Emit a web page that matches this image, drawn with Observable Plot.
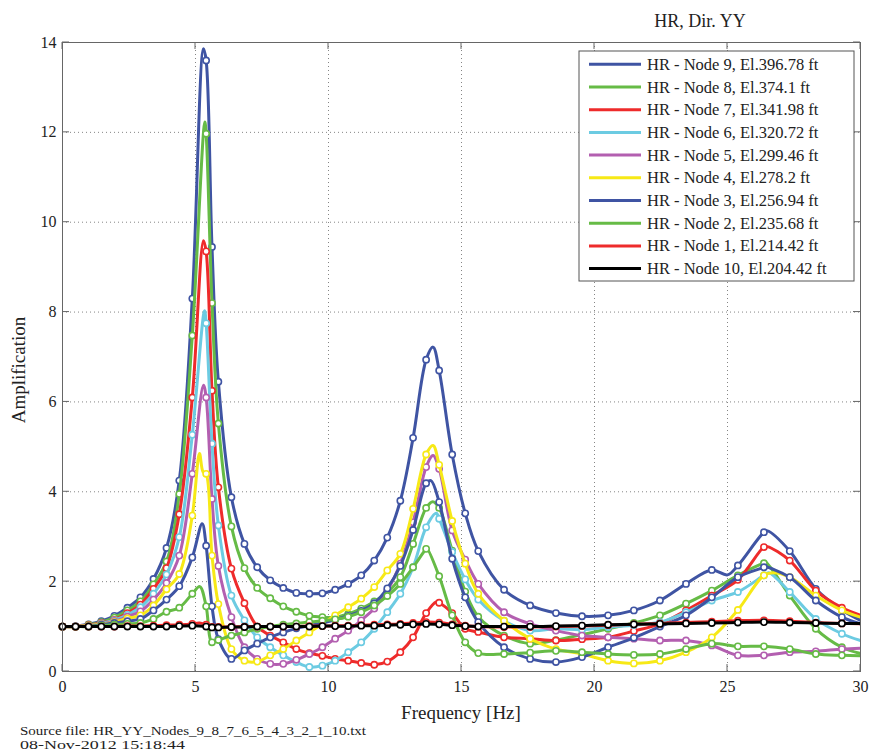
<!DOCTYPE html>
<html><head><meta charset="utf-8">
<script src="https://cdn.jsdelivr.net/npm/d3@7"></script>
<script src="https://cdn.jsdelivr.net/npm/@observablehq/plot@0.6"></script>
<style>body{margin:0;background:#fff} svg{display:block}</style>
</head><body><div id="chart"></div>
<script>
// Frequency grid of the plotted points [Hz]; the last one (30) carries no marker
const freq = [0, 0.49, 0.98, 1.46, 1.95, 2.44, 2.93, 3.42, 3.91, 4.39, 4.88,
  5.4, 5.62, 5.86,
  6.35, 6.84, 7.32, 7.81, 8.3, 8.79, 9.28, 9.77, 10.25, 10.74, 11.23, 11.72, 12.21, 12.7, 13.18, 13.67, 14.16, 14.65, 15.14, 15.63,
  16.6, 17.58, 18.55, 19.53, 20.51, 21.48, 22.46, 23.44, 24.41, 25.39, 26.37, 27.34, 28.32, 29.3,
  30];

const node9 = [1.0, 1.01, 1.05, 1.12, 1.24, 1.42, 1.65, 2.06, 2.75, 4.25, 8.3,
  13.6, 9.45, 6.45,
  3.88, 2.84, 2.32, 2.03, 1.86, 1.75, 1.73, 1.74, 1.82, 1.95, 2.14, 2.47, 2.98, 3.8, 5.2, 6.94, 6.7, 4.83, 3.52, 2.68,
  1.82, 1.47, 1.3, 1.23, 1.25, 1.36, 1.58, 1.95, 2.26, 2.36, 3.1, 2.68, 1.84, 1.37,
  1.14];
const node8 = [1.0, 1.0, 1.04, 1.1, 1.2, 1.36, 1.56, 1.94, 2.45, 3.95, 7.48,
  11.97, 8.2, 5.52,
  3.23, 2.3, 1.86, 1.63, 1.45, 1.33, 1.24, 1.21, 1.21, 1.28, 1.4, 1.56, 1.76, 2.1, 2.84, 3.64, 3.64, 2.69, 1.78, 1.22,
  0.8, 0.62, 0.7, 0.82, 0.95, 1.08, 1.25, 1.51, 1.8, 2.14, 2.41, 1.69, 0.95, 0.54,
  0.4];
const node7 = [1.0, 1.0, 1.03, 1.08, 1.15, 1.3, 1.49, 1.84, 2.3, 3.5, 6.1,
  9.35, 6.25, 4.1,
  2.29, 1.52, 1.0, 0.8, 0.65, 0.5, 0.41, 0.35, 0.28, 0.24, 0.19, 0.15, 0.22, 0.43, 0.76, 1.3, 1.53, 1.3, 0.95, 0.88,
  0.76, 0.73, 0.69, 0.72, 0.76, 0.9, 1.06, 1.36, 1.69, 2.04, 2.77, 2.47, 1.8, 1.42,
  1.25];
const node6 = [1.0, 1.0, 1.02, 1.07, 1.14, 1.26, 1.43, 1.73, 2.16, 2.99, 5.27,
  7.75, 5.07, 3.25,
  1.69, 1.14, 0.76, 0.54, 0.36, 0.21, 0.1, 0.13, 0.24, 0.43, 0.65, 0.95, 1.32, 1.73, 2.32, 3.21, 3.4, 2.66, 2.05, 1.6,
  1.13, 0.91, 0.95, 0.93, 0.99, 1.03, 1.1, 1.32, 1.58, 1.77, 2.14, 1.77, 1.17, 0.84,
  0.69];
const node5 = [1.0, 1.0, 1.02, 1.06, 1.12, 1.22, 1.34, 1.6, 1.97, 2.58, 4.4,
  6.1, 3.84, 2.35,
  1.21, 0.54, 0.28, 0.17, 0.17, 0.26, 0.39, 0.54, 0.73, 0.91, 1.14, 1.4, 1.8, 2.4, 3.32, 4.55, 4.51, 3.14, 2.49, 1.95,
  1.32, 1.06, 0.91, 0.8, 0.76, 0.73, 0.69, 0.69, 0.58, 0.36, 0.36, 0.43, 0.45, 0.5,
  0.52];
const node4 = [1.0, 1.0, 1.02, 1.05, 1.1, 1.18, 1.25, 1.47, 1.83, 2.17, 3.47,
  4.4, 2.58, 1.5,
  0.5, 0.24, 0.22, 0.36, 0.5, 0.69, 0.87, 1.06, 1.25, 1.43, 1.62, 1.88, 2.25, 2.62, 3.62, 4.83, 4.6, 3.35, 2.4, 1.73,
  1.13, 0.73, 0.5, 0.39, 0.24, 0.18, 0.24, 0.43, 0.76, 1.37, 2.14, 2.1, 1.69, 1.36,
  1.21];
const node3 = [1.0, 1.0, 1.01, 1.04, 1.08, 1.12, 1.17, 1.36, 1.6, 1.9, 2.54,
  2.8, 1.45, 0.72,
  0.28, 0.47, 0.62, 0.76, 0.87, 0.96, 1.02, 1.08, 1.15, 1.24, 1.35, 1.52, 1.85, 2.35, 3.15, 4.19, 3.77, 2.51, 1.65, 1.1,
  0.54, 0.28, 0.21, 0.32, 0.54, 0.75, 1.0, 1.25, 1.65, 2.1, 2.32, 2.1, 1.58, 1.21,
  1.06];
const node2 = [1.0, 1.0, 1.0, 1.02, 1.04, 1.06, 1.08, 1.17, 1.33, 1.42, 1.73,
  1.45, 0.65, 0.7,
  0.8, 0.87, 0.95, 1.0, 1.04, 1.07, 1.1, 1.13, 1.16, 1.22, 1.32, 1.47, 1.68, 1.95, 2.32, 2.73, 2.12, 1.25, 0.65, 0.41,
  0.39, 0.42, 0.46, 0.43, 0.39, 0.37, 0.39, 0.5, 0.62, 0.56, 0.56, 0.5, 0.39, 0.36,
  0.35];
const node1 = [1.0, 1.0, 1.0, 1.0, 1.0, 1.01, 1.01, 1.02, 1.03, 1.04, 1.06,
  1.04, 0.99, 0.99,
  0.99, 1.0, 1.0, 1.0, 1.0, 1.0, 1.01, 1.01, 1.02, 1.02, 1.03, 1.04, 1.05, 1.06, 1.08, 1.1, 1.09, 1.05, 1.02, 1.0,
  0.99, 0.99, 1.0, 1.01, 1.03, 1.05, 1.07, 1.09, 1.11, 1.13, 1.14, 1.12, 1.09, 1.07,
  1.06];
const node10 = [1.0, 1.0, 1.0, 1.0, 1.0, 1.0, 1.0, 1.0, 1.0, 1.01, 1.02,
  1.0, 0.98, 0.98,
  0.99, 0.99, 1.0, 1.0, 1.0, 1.0, 1.0, 1.01, 1.01, 1.01, 1.02, 1.02, 1.03, 1.04, 1.05, 1.06, 1.05, 1.03, 1.01, 1.0,
  1.0, 1.0, 1.01, 1.02, 1.04, 1.05, 1.06, 1.07, 1.08, 1.09, 1.1, 1.09, 1.08, 1.07,
  1.07];

// Resonance crest points between grid samples (line only, no marker) [Hz, amplification]
const node9Peaks = [[5.3, 13.86], [13.93, 7.22], [25.0, 2.15], [26.5, 3.13]];
const node8Peaks = [[5.35, 12.23], [13.92, 3.78], [26.45, 2.42]];
const node7Peaks = [[5.3, 9.59], [14.05, 1.55], [26.5, 2.78]];
const node6Peaks = [[5.34, 8.03], [14.05, 3.52], [26.55, 2.2]];
const node5Peaks = [[5.3, 6.37], [13.93, 4.81]];
const node4Peaks = [[5.15, 4.85], [5.28, 4.45], [13.93, 5.03], [26.75, 2.2]];
const node3Peaks = [[5.25, 3.29], [13.85, 4.25], [26.4, 2.33]];
const node2Peaks = [[5.16, 1.89], [13.7, 2.74]];
const node1Peaks = [[5.15, 1.08]];
const node10Peaks = [];

const labels = ["HR - Node 9, El.396.78 ft", "HR - Node 8, El.374.1 ft", "HR - Node 7, El.341.98 ft",
  "HR - Node 6, El.320.72 ft", "HR - Node 5, El.299.46 ft", "HR - Node 4, El.278.2 ft",
  "HR - Node 3, El.256.94 ft", "HR - Node 2, El.235.68 ft", "HR - Node 1, El.214.42 ft",
  "HR - Node 10, El.204.42 ft"];
const colors = ["#3f54a3", "#66bb46", "#ee2b2b", "#6ccbe2", "#b35fb0", "#f7e916", "#3f54a3", "#66bb46", "#ee2b2b", "#000000"];
const xTicks = [0, 5, 10, 15, 20, 25, 30];
const yTicks = [0, 2, 4, 6, 8, 10, 12, 14];

const valueSets = [node9, node8, node7, node6, node5, node4, node3, node2, node1, node10];
const peakSets = [node9Peaks, node8Peaks, node7Peaks, node6Peaks, node5Peaks, node4Peaks, node3Peaks, node2Peaks, node1Peaks, node10Peaks];

const seriesMarks = [];
valueSets.forEach((vals, i) => {
  const pts = vals.map((v, j) => ({f: freq[j], v, marker: freq[j] < 30}));
  peakSets[i].forEach(([f, v]) => pts.push({f, v, marker: false}));
  pts.sort((a, b) => a.f - b.f);
  seriesMarks.push(Plot.line(pts, {x: "f", y: "v", stroke: colors[i], strokeWidth: 3, curve: "catmull-rom", clip: true}));
  seriesMarks.push(Plot.dot(pts.filter(d => d.marker), {x: "f", y: "v", r: 3.1, fill: "white", stroke: colors[i], strokeWidth: 1.6}));
});

const serif = "'Liberation Serif', 'Times New Roman', serif";
const chart = Plot.plot({
  width: 874, height: 751,
  marginLeft: 62, marginRight: 14, marginTop: 42, marginBottom: 80,
  style: {fontFamily: serif, fontSize: "16px", background: "#fff", color: "#222"},
  x: {domain: [0, 30], ticks: xTicks, tickSize: 0, tickPadding: 9, label: null, tickFormat: d => String(d)},
  y: {domain: [0, 14], ticks: yTicks, tickSize: 0, tickPadding: 6, label: null, tickFormat: d => String(d)},
  marks: [
    Plot.gridX(xTicks.slice(1, -1), {stroke: "#666", strokeOpacity: 1, strokeWidth: 0.8, strokeDasharray: "1,3"}),
    Plot.gridY(yTicks.slice(1, -1), {stroke: "#666", strokeOpacity: 1, strokeWidth: 0.8, strokeDasharray: "1,3"}),
    ...seriesMarks,
    Plot.frame({stroke: "#666"})
  ]
});

const svg = d3.select(chart);
const sx = chart.scale("x"), sy = chart.scale("y");
const x0 = sx.apply(0), x1 = sx.apply(30), y0 = sy.apply(0), y1 = sy.apply(14);
const tl = 7;
const tg = svg.append("g").attr("stroke", "#666").attr("stroke-width", 1);
xTicks.forEach(t => {
  const px = sx.apply(t);
  tg.append("line").attr("x1", px).attr("x2", px).attr("y1", y0).attr("y2", y0 - tl);
  tg.append("line").attr("x1", px).attr("x2", px).attr("y1", y1).attr("y2", y1 + tl);
});
yTicks.forEach(t => {
  const py = sy.apply(t);
  tg.append("line").attr("x1", x0).attr("x2", x0 + tl).attr("y1", py).attr("y2", py);
  tg.append("line").attr("x1", x1).attr("x2", x1 - tl).attr("y1", py).attr("y2", py);
});

svg.append("text").attr("x", 700).attr("y", 27).attr("text-anchor", "middle")
  .attr("font-family", serif).attr("font-size", 18).attr("fill", "#222").text("HR, Dir. YY");
svg.append("text").attr("x", (x0 + x1) / 2).attr("y", 719).attr("text-anchor", "middle")
  .attr("font-family", serif).attr("font-size", 19).attr("fill", "#222").text("Frequency [Hz]");
svg.append("text").attr("transform", "translate(25,370) rotate(-90)").attr("text-anchor", "middle")
  .attr("font-family", serif).attr("font-size", 19).attr("fill", "#222").text("Amplification");
svg.append("text").attr("x", 20).attr("y", 735).attr("text-anchor", "start").attr("font-family", serif).attr("font-size", 13)
  .attr("fill", "#222").attr("textLength", 346).attr("lengthAdjust", "spacingAndGlyphs")
  .text("Source file: HR_YY_Nodes_9_8_7_6_5_4_3_2_1_10.txt");
svg.append("text").attr("x", 20).attr("y", 749).attr("text-anchor", "start").attr("font-family", serif).attr("font-size", 13)
  .attr("fill", "#222").attr("textLength", 165).attr("lengthAdjust", "spacingAndGlyphs")
  .text("08-Nov-2012 15:18:44");

// legend
const lg = svg.append("g");
lg.append("rect").attr("x", 579).attr("y", 51).attr("width", 275).attr("height", 230)
  .attr("fill", "#fff").attr("stroke", "#555").attr("stroke-width", 1);
labels.forEach((lab, i) => {
  const ry = 64.3 + i * 22.7;
  lg.append("line").attr("x1", 589).attr("x2", 641).attr("y1", ry).attr("y2", ry)
    .attr("stroke", colors[i]).attr("stroke-width", 3);
  lg.append("text").attr("x", 647).attr("y", ry + 5.5).attr("text-anchor", "start").attr("font-family", serif)
    .attr("font-size", 16.5).attr("fill", "#222").text(lab);
});

document.getElementById("chart").appendChild(chart);
</script>
</body></html>
